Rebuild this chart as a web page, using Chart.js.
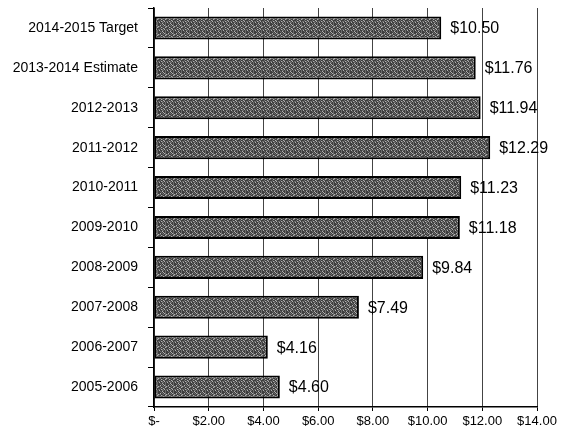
<!DOCTYPE html>
<html>
<head>
<meta charset="utf-8">
<script src="https://cdn.jsdelivr.net/npm/chart.js@4/dist/chart.umd.min.js"></script>
<style>
  html, body { margin: 0; padding: 0; background: #fff; }
  #wrap { width: 562px; height: 430px; position: relative; }
</style>
</head>
<body>
<div id="wrap"><canvas id="c"></canvas></div>
<script>
const categories = [
  "2014-2015 Target", "2013-2014 Estimate", "2012-2013", "2011-2012", "2010-2011",
  "2009-2010", "2008-2009", "2007-2008", "2006-2007", "2005-2006"
];
const values = [10.50, 11.76, 11.94, 12.29, 11.23, 11.18, 9.84, 7.49, 4.16, 4.60];
const xTicks = [0, 2, 4, 6, 8, 10, 12, 14];

function money(v) {
  return v === 0 ? "$-" : "$" + v.toFixed(2);
}

// speckled grey fill, like the scanned hatch in the original
function makeTexture() {
  const rows = [
    "dmdldmdd",
    "ldmdlmdd",
    "mddmdmlm",
    "dlmddlmd",
    "mddlmddd",
    "dlmdldmm",
    "ddmmdmdl",
    "mdlddmdd",
  ];
  const shades = { d: "#3e3e3e", m: "#6c6c6c", l: "#b0b0b0" };
  const t = document.createElement("canvas");
  t.width = 8; t.height = 8;
  const g = t.getContext("2d");
  rows.forEach((r, y) => {
    [...r].forEach((ch, x) => {
      g.fillStyle = shades[ch];
      g.fillRect(x, y, 1, 1);
    });
  });
  return g.createPattern(t, "repeat");
}

const valueLabels = {
  id: "valueLabels",
  afterDatasetsDraw(chart) {
    const ctx = chart.ctx;
    const meta = chart.getDatasetMeta(0);
    ctx.save();
    ctx.font = "16px 'Liberation Sans', Arial, sans-serif";
    ctx.fillStyle = "#000";
    ctx.textBaseline = "middle";
    ctx.textAlign = "left";
    meta.data.forEach((bar, i) => {
      ctx.fillText(money(values[i]), bar.x + 9, bar.y + 1);
    });
    ctx.restore();
  }
};

const ctx = document.getElementById("c").getContext("2d");
new Chart(ctx, {
  type: "bar",
  data: {
    labels: categories,
    datasets: [{
      data: values,
      backgroundColor: makeTexture(),
      borderColor: "#000",
      borderWidth: 2,
      borderSkipped: false,
      barPercentage: 0.58,
      categoryPercentage: 1,
    }],
  },
  options: {
    indexAxis: "y",
    responsive: true,
    maintainAspectRatio: false,
    animation: false,
    layout: { padding: { top: 8, right: 25, left: 0, bottom: 0 } },
    plugins: { legend: { display: false }, tooltip: { enabled: false } },
    scales: {
      x: {
        min: 0,
        max: 14,
        afterBuildTicks: (s) => { s.ticks = xTicks.map(v => ({ value: v })); },
        afterFit: (s) => { s.height = 23; },
        ticks: {
          callback: (v) => money(v),
          color: "#000",
          font: { family: "'Liberation Sans', Arial, sans-serif", size: 13 },
          padding: 3,
          maxRotation: 0,
        },
        grid: { color: "#444", lineWidth: 1, tickLength: 4, tickColor: "#000" },
        border: { display: true, color: "#000", width: 1.5, dash: [] },
      },
      y: {
        afterFit: (s) => { s.width = 154; s.paddingTop = 0; s.paddingBottom = 0; },
        ticks: {
          color: "#000",
          font: { family: "'Liberation Sans', Arial, sans-serif", size: 14 },
          padding: 10,
        },
        grid: { drawOnChartArea: false, offset: true, tickLength: 6, color: "#000" },
        border: { display: true, color: "#000", width: 1.5 },
      },
    },
  },
  plugins: [valueLabels],
});
</script>
</body>
</html>
